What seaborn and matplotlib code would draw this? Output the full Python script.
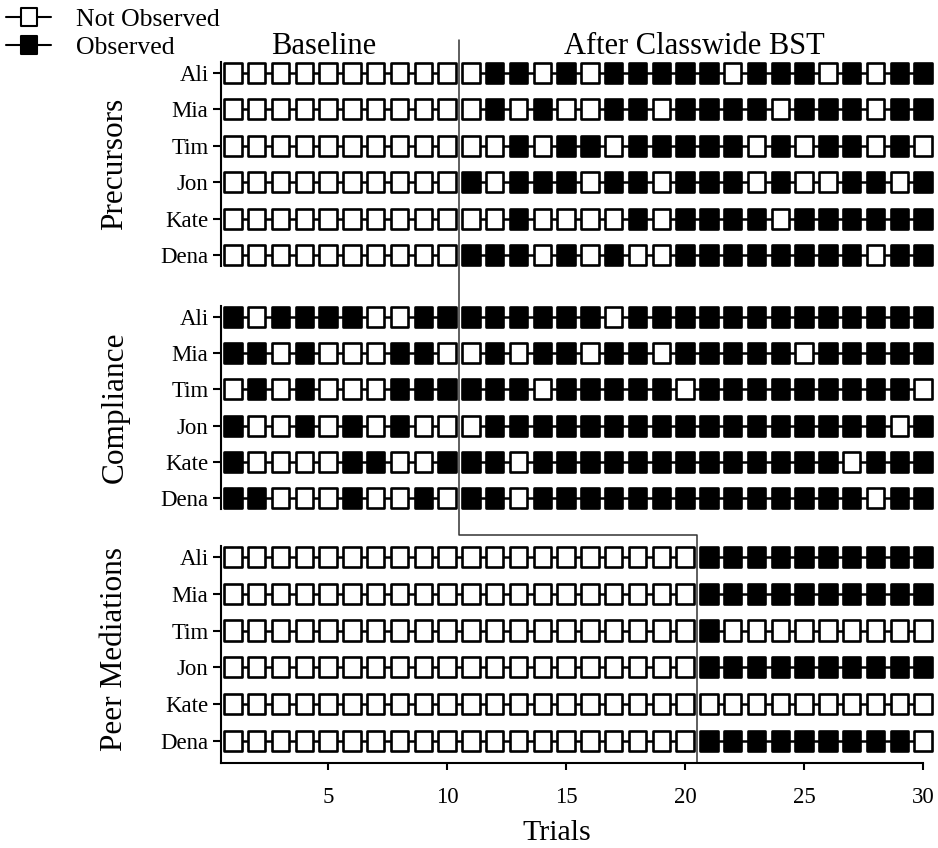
import matplotlib
matplotlib.use("Agg")
import matplotlib.pyplot as plt
import numpy as np
import pandas as pd
import seaborn as sns
from matplotlib.transforms import blended_transform_factory as blend
from matplotlib.lines import Line2D
from matplotlib.path import Path

# ---------------- data ----------------
students = ["Ali", "Mia", "Tim", "Jon", "Kate", "Dena"]
behaviors = ["Precursors", "Compliance", "Peer Mediations"]
trials = list(range(1, 31))
phase_change = [10.5, 10.5, 20.5]          # last baseline trial + 0.5 per behavior
phase_names = ["Baseline", "After Classwide BST"]
x_ticks = [5, 10, 15, 20, 25, 30]

# 1 = Observed, 0 = Not Observed ; trials 1..30 (groups of ten)
precursors = [
    "0000000000" "0110101111" "1011101011",  # Ali
    "0000000000" "0101001101" "1110111011",  # Mia
    "0000000000" "0010110111" "1101011010",  # Tim
    "0000000000" "1011101101" "1101001101",  # Jon
    "0000000000" "0010000101" "1110111111",  # Kate
    "0000000000" "1110101001" "1111111011",  # Dena
]
compliance = [
    "1011110011" "1111110111" "1111111111",  # Ali
    "1101000110" "0101101101" "1111011111",  # Mia
    "0101000111" "1110111110" "1111111110",  # Tim
    "1001010100" "0111111111" "1111111101",  # Jon
    "1000011001" "1101111111" "1111110111",  # Kate
    "1100010010" "1101111111" "1111111011",  # Dena
]
peer_mediations = [
    "0000000000" "0000000000" "1111111111",  # Ali
    "0000000000" "0000000000" "1111111111",  # Mia
    "0000000000" "0000000000" "1000000000",  # Tim
    "0000000000" "0000000000" "1111111111",  # Jon
    "0000000000" "0000000000" "0000000000",  # Kate
    "0000000000" "0000000000" "1111111110",  # Dena
]
series = [precursors, compliance, peer_mediations]

rows = []
for b, data, pc in zip(behaviors, series, phase_change):
    for si, (st, codes) in enumerate(zip(students, data)):
        for t, c in zip(trials, codes):
            phase = 0 if t < pc else 1
            rows.append(dict(behavior=b, student=st, row=si, trial=t,
                             status="Observed" if c == "1" else "Not Observed",
                             seg=f"{st}-{phase}"))
df = pd.DataFrame(rows)

# ---------------- style ----------------
sns.set_style("ticks")
plt.rcParams["font.family"] = ["Liberation Serif", "DejaVu Serif"]
plt.rcParams["axes.linewidth"] = 1.5
for k in ["text.color", "axes.labelcolor", "xtick.color", "ytick.color",
          "axes.edgecolor"]:
    plt.rcParams[k] = "black"

# slightly tall rectangle marker
rw, rh = 0.86, 1.0
box = Path([(-rw / 2, -rh / 2), (rw / 2, -rh / 2), (rw / 2, rh / 2),
            (-rw / 2, rh / 2), (-rw / 2, -rh / 2)],
           [Path.MOVETO, Path.LINETO, Path.LINETO, Path.LINETO, Path.CLOSEPOLY])

fig = plt.figure(figsize=(9.38, 8.48), dpi=100)
W, H = 938.0, 848.0
positions = [
    [221 / W, 1 - 266 / H, 702 / W, 204 / H],
    [221 / W, 1 - 509 / H, 702 / W, 203 / H],
    [221 / W, 1 - 763 / H, 702 / W, 217 / H],
]
ylims = [(5.3, -0.3), (5.3, -0.3), (5.6, -0.3)]
palette = {"Observed": "black", "Not Observed": "white"}

axes = []
for i, b in enumerate(behaviors):
    ax = fig.add_axes(positions[i])
    sub = df[df.behavior == b]
    sns.lineplot(data=sub, x="trial", y="row", units="seg", estimator=None,
                 color="black", lw=1.8, ax=ax, legend=False)
    sns.scatterplot(data=sub, x="trial", y="row", hue="status", palette=palette,
                    marker=box, s=212, edgecolor="black", linewidth=1.9,
                    ax=ax, legend=False, zorder=3, clip_on=False)
    ax.set_xlim(0.5, 30)
    ax.set_ylim(*ylims[i])
    ax.set_yticks(range(len(students)))
    ax.set_yticklabels(students, fontsize=16.5)
    ax.set_xlabel("")
    ax.set_ylabel("")
    ax.tick_params(axis="y", length=6, width=1.5, pad=3, colors="black")
    for s in ["top", "right"]:
        ax.spines[s].set_visible(False)
    ax.spines["left"].set_color("black")
    if i < 2:
        ax.spines["bottom"].set_visible(False)
        ax.tick_params(axis="x", bottom=False, labelbottom=False)
    else:
        ax.spines["bottom"].set_color("black")
        ax.set_xticks(x_ticks)
        ax.set_xticklabels([str(v) for v in x_ticks], fontsize=16.5)
        ax.tick_params(axis="x", length=5, width=1.5, pad=12, colors="black")
    # row-centered behavior label
    tr = blend(fig.transFigure, ax.transData)
    ax.text(115 / W, 2.5, b, transform=tr, rotation=90, ha="center",
            va="center", fontsize=22.5)
    axes.append(ax)

# phase change line (stepped)
ax3 = axes[2]
trb = blend(ax3.transData, fig.transFigure)
ax3.plot([phase_change[0], phase_change[1], phase_change[2], phase_change[2]],
         [1 - 40 / H, 1 - 535 / H, 1 - 535 / H, 1 - 763 / H],
         transform=trb, color="#333333", lw=1.1, clip_on=False, zorder=1)

# phase labels
ax1 = axes[0]
tr1 = blend(ax1.transData, fig.transFigure)
ax1.text(4.8, 1 - 46 / H, phase_names[0], transform=tr1, ha="center",
         va="center", fontsize=22)
ax1.text(20.4, 1 - 46 / H, phase_names[1], transform=tr1, ha="center",
         va="center", fontsize=22)

fig.text(557 / W, 1 - 833 / H, "Trials", ha="center", va="center", fontsize=21.5)

handles = [
    Line2D([0], [0], color="black", lw=1.5, marker=box, markersize=13.5,
           markerfacecolor="white", markeredgecolor="black",
           markeredgewidth=1.5, label="Not Observed"),
    Line2D([0], [0], color="black", lw=1.5, marker=box, markersize=13.5,
           markerfacecolor="black", markeredgecolor="black",
           markeredgewidth=1.5, label="Observed"),
]
fig.legend(handles=handles, loc="upper left",
           bbox_to_anchor=(0.004, 1 - 5 / H),
           frameon=False, fontsize=18.5, handlelength=1.75, handletextpad=0.95,
           labelspacing=0.2, borderaxespad=0.0, borderpad=0.1)

fig.savefig("out.png", dpi=100)
